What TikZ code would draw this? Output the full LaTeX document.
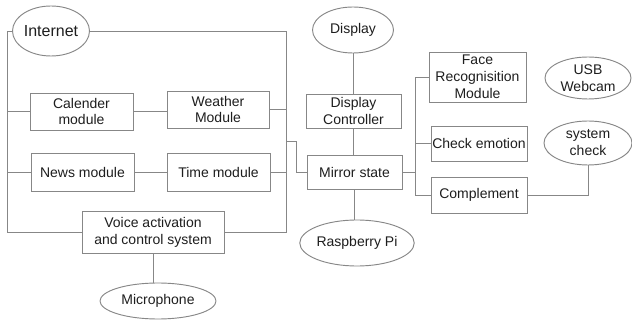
\documentclass[tikz,border=0pt]{standalone}
\usepackage{fontspec}
\setmainfont{Liberation Sans}
\usetikzlibrary{shapes.geometric}
\definecolor{linegray}{RGB}{135,135,135}
\definecolor{inkgray}{RGB}{30,30,30}
\begin{document}
\begin{tikzpicture}[x=0.75pt,y=-0.75pt,
  every node/.style={text=inkgray, font=\fontsize{10.5}{12.7}\selectfont, align=center, inner sep=0pt},
  box/.style 2 args={draw=linegray, line width=0.7pt, rectangle, minimum width=#1*0.75pt, minimum height=#2*0.75pt},
  oval/.style 2 args={draw=linegray, line width=0.7pt, ellipse, minimum width=#1*0.75pt, minimum height=#2*0.75pt},
  wire/.style={draw=linegray, line width=0.7pt}]

% canvas
\fill[white] (0,0) rectangle (632,320);
\useasboundingbox (0,0) rectangle (632,320);

% left-hand modules
\node[oval={77}{50}, font=\fontsize{12}{13}\selectfont] (internet) at (51,31) {Internet};
\node[box={103}{37}] (cal) at (81.5,111.5) {Calender\\module};
\node[box={102}{37}] (wea) at (218,109.5) {Weather\\Module};
\node[box={103}{38}] (news) at (82.5,172) {News module};
\node[box={103}{38}] (time) at (218.5,172) {Time module};
\node[box={142}{42}] (voice) at (153,232) {Voice activation\\and control system};
\node[oval={116}{36}] (mic) at (158,301) {Microphone};

% central column
\node[oval={81}{46}] (display) at (353,30) {Display};
\node[box={95}{34}] (dctl) at (353.5,111) {Display\\Controller};
\node[box={95}{34}] (mirror) at (354.5,172) {Mirror state};
\node[oval={99}{46}] (rpi) at (357,243) {Raspberry Pi};

% right-hand modules
\node[box={97}{50}] (face) at (477.5,77) {Face\\Recognisition\\Module};
\node[box={96}{35}] (emo) at (479,143.5) {Check emotion};
\node[box={96}{36}] (comp) at (479,195) {Complement};
\node[oval={86}{42}] (usb) at (588,78) {USB\\Webcam};
\node[oval={88}{44}] (sys) at (588,143) {system\\check};

% bus coordinates
\coordinate (lt) at (7,31);
\coordinate (rt) at (286,31);
\coordinate (j1) at (286,141);
\coordinate (j2) at (296,141);
\coordinate (rb) at (415,172);

% left bus
\draw[wire] (internet.west) -- (lt) |- (voice.west);
\draw[wire] (lt |- cal.west) -- (cal.west);
\draw[wire] (lt |- news.west) -- (news.west);
\draw[wire] (cal.east) -- (cal.east -| wea.west);
\draw[wire] (news.east) -- (time.west);

% right bus
\draw[wire] (internet.east) -- (rt) |- (voice.east);
\draw[wire] (wea.east) -- (wea.east -| rt);
\draw[wire] (time.east) -- (time.east -| rt);
\draw[wire] (j1) -- (j2) |- (mirror.west);

% central column links
\draw[wire] (display.south) -- (display.south |- dctl.north);
\draw[wire] (dctl.south) -- (dctl.south |- mirror.north);
\draw[wire] (mirror.south) -- (mirror.south |- rpi.north);
\draw[wire] (voice.south) -- (voice.south |- mic.north);

% right-hand links
\draw[wire] (mirror.east) -- (rb);
\draw[wire] (face.west) -| (rb);
\draw[wire] (comp.west) -| (rb);
\draw[wire] (emo.west) -- (emo.west -| rb);
\draw[wire] (comp.east) -| (sys.south);
\end{tikzpicture}
\end{document}
